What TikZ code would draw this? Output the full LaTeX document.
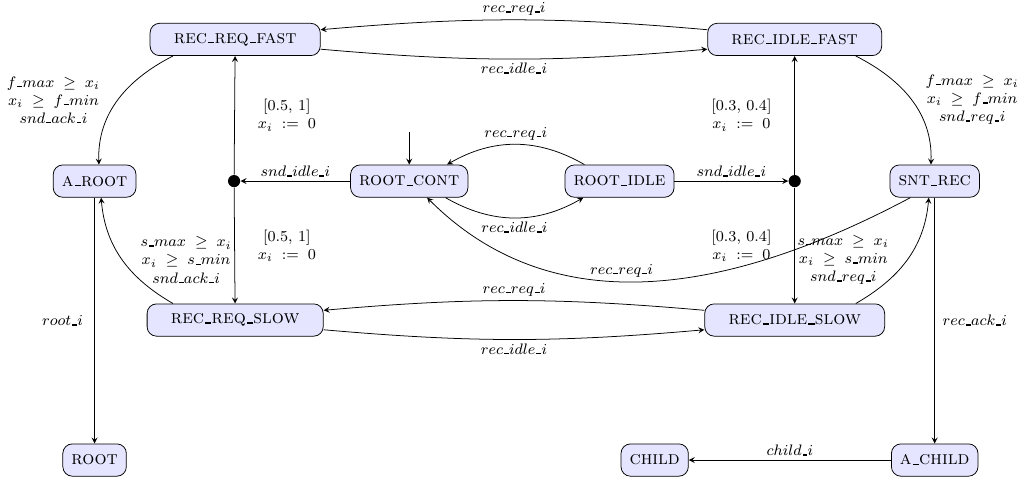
\documentclass[tikz,border=0pt]{standalone}
\usepackage{amsmath,amssymb}
\usetikzlibrary{positioning}

\newcommand{\ub}{\leavevmode\kern.06em\vbox{\hrule width.32em height .75pt}\kern.02em}

\tikzset{
  loc/.style={draw,rounded corners=5pt,fill=blue!10,minimum height=17pt,inner xsep=4.5pt},
  recloc/.style={loc,inner xsep=12.5pt},
  junct/.style={circle,fill,inner sep=0pt,minimum size=6.4pt},
  lbl/.style={font=\footnotesize,inner sep=2pt},
  grd/.style={font=\footnotesize,align=center},
  intv/.style={font=\footnotesize,align=center,inner xsep=12pt},
}

\begin{document}
\begin{tikzpicture}[>=stealth]
      \useasboundingbox (0,0) rectangle (18.96,8.92);

      \node[recloc] (reqfast) at (4.35,8.19) {\textsc{rec\ub req\ub fast}};
      \node[recloc] (idlefast) at (14.70,8.19) {\textsc{rec\ub idle\ub fast}};
      \node[loc] (aroot) at (1.75,5.57) {\textsc{a\ub root}};
      \node[junct] (jl) at (4.33,5.57) {};
      \node[loc] (rootcont) at (7.57,5.57) {\textsc{root\ub cont}};
      \node[loc] (rootidle) at (11.46,5.57) {\textsc{root\ub idle}};
      \node[junct] (jr) at (14.70,5.57) {};
      \node[loc] (sntrec) at (17.29,5.57) {\textsc{snt\ub rec}};
      \node[recloc] (reqslow) at (4.35,3.00) {\textsc{rec\ub req\ub slow}};
      \node[recloc] (idleslow) at (14.70,3.00) {\textsc{rec\ub idle\ub slow}};
      \node[loc] (root) at (1.75,0.41) {\textsc{root}};
      \node[loc] (child) at (12.11,0.41) {\textsc{child}};
      \node[loc] (achild) at (17.29,0.41) {\textsc{a\ub child}};
      \coordinate (init) at (7.57,6.47);

      \draw[->] (init) -- (rootcont);
      \draw[->] ([yshift=0.18cm]idlefast.west) to[bend right=5] node[lbl,above] {$rec\ub req\ub i$} ([yshift=0.18cm]reqfast.east);
      \draw[->] ([yshift=-0.18cm]reqfast.east) to[bend right=5] node[lbl,below] {$rec\ub idle\ub i$} ([yshift=-0.18cm]idlefast.west);
      \draw[->] ([yshift=0.18cm]idleslow.west) to[bend right=5] node[lbl,above] {$rec\ub req\ub i$} ([yshift=0.18cm]reqslow.east);
      \draw[->] ([yshift=-0.18cm]reqslow.east) to[bend right=5] node[lbl,below] {$rec\ub idle\ub i$} ([yshift=-0.18cm]idleslow.west);

      \draw[->] ([xshift=-1.15cm]reqfast.south) to[out=207,in=92] node[grd,left,xshift=-6pt] {$f\ub max\;\geq\; x_i$\\$x_i\;\geq\; f\ub min$\\$snd\ub ack\ub i$} ([xshift=0.08cm]aroot.north);
      \draw[->] ([xshift=1.13cm]idlefast.south) to[out=-27,in=88] node[grd,right,xshift=4pt] {$f\ub max\;\geq\; x_i$\\$x_i\;\geq\; f\ub min$\\$snd\ub req\ub i$} ([xshift=-0.07cm]sntrec.north);
      \draw[->] ([xshift=-1.15cm]reqslow.north) to[out=150,in=-85] node[grd,right,xshift=6pt] {$s\ub max\;\geq\; x_i$\\$x_i\;\geq\; s\ub min$\\$snd\ub ack\ub i$} ([xshift=0.12cm]aroot.south);
      \draw[->] ([xshift=1.13cm]idleslow.north) to[out=30,in=-95] node[grd,left,xshift=-6pt] {$s\ub max\;\geq\; x_i$\\$x_i\;\geq\; s\ub min$\\$snd\ub req\ub i$} ([xshift=-0.11cm]sntrec.south);

      \draw[->] (rootcont) -- node[lbl,above] {$snd\ub idle\ub i$} (jl);
      \draw[->] (rootidle) -- node[lbl,above] {$snd\ub idle\ub i$} (jr);
      \draw[->] (jl) -- node[intv,right] {[0.5, 1]\\$x_i\;:=\;0$} (reqfast);
      \draw[->] (jl) -- node[intv,right] {[0.5, 1]\\$x_i\;:=\;0$} (reqslow);
      \draw[->] (jr) -- node[intv,left] {[0.3, 0.4]\\$x_i\;:=\;0$} (idlefast);
      \draw[->] (jr) -- node[intv,left] {[0.3, 0.4]\\$x_i\;:=\;0$} (idleslow);

      \draw[->] ([xshift=-0.65cm]rootidle.north) to[bend right=30] node[lbl,above] {$rec\ub req\ub i$} ([xshift=0.7cm]rootcont.north);
      \draw[->] ([xshift=0.67cm]rootcont.south) to[bend right=30] node[lbl,below] {$rec\ub idle\ub i$} ([xshift=-0.67cm]rootidle.south);
      \draw[->] ([xshift=-0.45cm]sntrec.south) to[out=208,in=-45] node[lbl,above,pos=0.57] {$rec\ub req\ub i$} ([xshift=0.33cm]rootcont.south);

      \draw[->] (aroot) -- node[lbl,left,xshift=-4pt] {$root\ub i$} (root);
      \draw[->] (sntrec) -- node[lbl,right,xshift=2pt] {$rec\ub ack\ub i$} (achild);
      \draw[->] (achild) -- node[lbl,above] {$child\ub i$} (child);
\end{tikzpicture}
\end{document}
